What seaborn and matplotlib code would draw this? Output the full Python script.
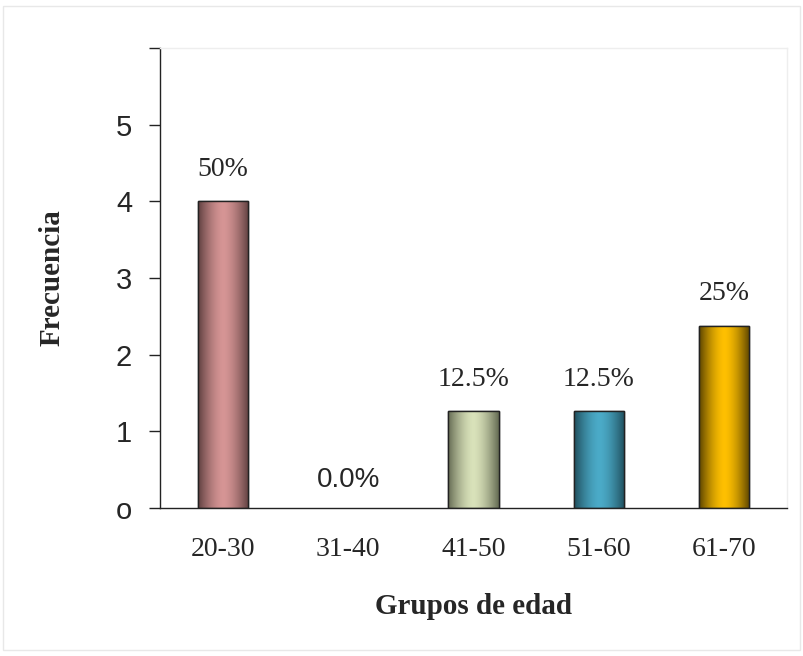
import numpy as np
import pandas as pd
import seaborn as sns
import matplotlib.pyplot as plt
from matplotlib.colors import to_rgb
from matplotlib.patches import Rectangle

# data
grupos = ['20-30', '31-40', '41-50', '51-60', '61-70']
frecuencia = [4.0, 0.0, 1.26, 1.26, 2.38]
etiquetas = ['50%', '0.0%', '12.5%', '12.5%', '25%']
claros = ['#D69595', '#FFFFFF', '#D9E2BA', '#4BABC8', '#FFC000']
oscuros = ['#5E3F3F', '#FFFFFF', '#646A52', '#1F4D5B', '#5A4300']

df = pd.DataFrame({'grupo': grupos, 'frecuencia': frecuencia})

sns.set_style('white')
fig = plt.figure(figsize=(8.04, 6.56), dpi=100)
ax = fig.add_axes([160 / 804, 148 / 656, 627 / 804, 460 / 656])

sns.barplot(data=df, x='grupo', y='frecuencia', hue='grupo', palette=claros,
            width=0.4, legend=False, ax=ax, edgecolor='#222222', linewidth=1)

# horizontal gradient dark - light - dark inside each bar
t = np.linspace(-1, 1, 200)
w = np.clip(np.abs(t) ** 1.6, 0, 1)
for patch, c1, c2 in zip(ax.patches, claros, oscuros):
    h = patch.get_height()
    if h <= 0:
        patch.set_linewidth(0)
        continue
    a, b = np.array(to_rgb(c1)), np.array(to_rgb(c2))
    img = (a[None, :] * (1 - w[:, None]) + b[None, :] * w[:, None])[None, :, :]
    x0 = patch.get_x()
    im = ax.imshow(img, extent=[x0, x0 + patch.get_width(), 0, h],
                   aspect='auto', zorder=patch.get_zorder() + 0.1, interpolation='bicubic')
    im.set_clip_path(patch)
    ax.add_patch(Rectangle((x0, 0), patch.get_width(), h, fill=False,
                           edgecolor='#222222', linewidth=1, zorder=patch.get_zorder() + 0.2))

# value labels
for i, (v, lab) in enumerate(zip(frecuencia, etiquetas)):
    if v > 0:
        ax.text(i, v + 0.25, lab, ha='center', va='bottom', fontsize=20,
                family='Liberation Serif')
    else:
        ax.text(i, v + 0.2, lab, ha='center', va='bottom', fontsize=20,
                family='Liberation Sans')

ax.set_xlim(-0.5, 4.5)
ax.set_ylim(0, 6)
ax.set_yticks(range(7))
ax.set_yticklabels(['o', '1', '2', '3', '4', '5', ''], fontsize=21, family='Liberation Sans')
ax.set_xticks(range(5))
ax.set_xticklabels(grupos, fontsize=20, family='Liberation Serif')
ax.set_xticks(np.arange(-0.5, 5, 1), minor=True)
ax.tick_params(axis='x', which='major', length=0, pad=21)
ax.tick_params(axis='x', which='minor', length=8, width=1, color='#222222', direction='out')
ax.tick_params(axis='y', length=8, width=1, color='#222222', direction='out', pad=12, left=True)

for s in ['left', 'bottom']:
    ax.spines[s].set_color('#222222')
    ax.spines[s].set_linewidth(1)
for s in ['top', 'right']:
    ax.spines[s].set_color('#EEEEEE')
    ax.spines[s].set_linewidth(1)

ax.set_xlabel('Grupos de edad', fontsize=21, fontweight='bold', family='Liberation Serif', labelpad=22)
ax.set_ylabel('Frecuencia', fontsize=21, fontweight='bold', family='Liberation Serif', labelpad=36)

fig.patches.append(Rectangle((3 / 804, 6 / 656), 797 / 804, 644 / 656, transform=fig.transFigure,
                             fill=False, edgecolor='#E8E8E8', linewidth=1))

fig.savefig('out.png', dpi=100)
